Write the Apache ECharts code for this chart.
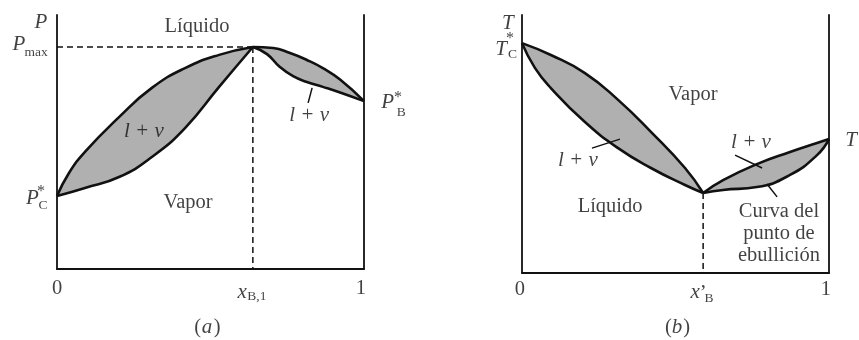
<!DOCTYPE html>
<html><head><meta charset="utf-8">
<script src="https://cdn.jsdelivr.net/npm/echarts@6/dist/echarts.min.js"></script>
<style>html,body{margin:0;padding:0;background:#fff}#c{width:859px;height:340px}</style>
</head><body><div id="c"></div>
<script>
// ---------- Panel (a): P vs x_B (maximum-pressure azeotrope) ----------
const aUpperLeft = [[0,28.7],[0.039,37.8],[0.091,46.1],[0.202,59.8],[0.309,71.3],[0.417,79.1],[0.528,84.3],[0.638,87.4]];
const aLowerLeft = [[0,28.7],[0.091,31.9],[0.202,36.2],[0.309,44.1],[0.417,55.5],[0.528,71.7],[0.638,87.4]];
const aUpperRight = [[0.638,87.4],[0.704,87.0],[0.759,85.0],[0.814,82.3],[0.866,79.1],[0.922,74.6],[1,66.1]];
const aLowerRight = [[0.638,87.4],[0.684,84.6],[0.726,79.5],[0.769,75.9],[0.814,73.6],[0.866,71.7],[0.922,69.5],[1,66.1]];
const aAzeoX = 0.638, aPmax = 87.4;
const aLeader = [[0.831,71.3],[0.818,65.4]];

// ---------- Panel (b): T vs x_B (minimum-boiling azeotrope) ----------
const bUpperLeft = [[0,89.1],[0.094,84.5],[0.205,77.5],[0.313,67.1],[0.420,54.7],[0.531,40.7],[0.590,31.0]];
const bLowerLeft = [[0,89.1],[0.042,79.5],[0.094,71.7],[0.205,58.5],[0.313,48.4],[0.420,40.7],[0.531,34.1],[0.590,31.0]];
const bUpperRight = [[0.590,31.0],[0.655,36.0],[0.765,42.2],[0.873,46.9],[0.961,50.4],[1,51.9]];
const bLowerRight = [[0.590,31.0],[0.655,32.2],[0.765,33.3],[0.873,38.0],[0.961,45.7],[1,51.9]];
const bAzeoX = 0.590, bTmin = 31.0;
const bLeaders = [
  [[0.228,48.4],[0.319,51.9]],
  [[0.694,45.7],[0.782,40.7]],
  [[0.798,34.5],[0.831,29.5]]
];

// ---------- Text annotations [text, style, x, y] in data units ----------
const aTexts = [
  ['P', 'i', -0.052, 96.9],
  ['P', 'i', -0.124, 88.4], ['max', 'sub', -0.068, 85.4],
  ['Líquido', 'r', 0.456, 95.3],
  ['Vapor', 'r', 0.427, 26.0],
  ['l + v', 'i', 0.283, 54.3],
  ['l + v', 'i', 0.821, 60.6],
  ['P', 'i', 1.077, 65.6], ['B', 'sub', 1.121, 61.8], ['*', 'st', 1.111, 67.3],
  ['P', 'i', -0.080, 27.8], ['C', 'sub', -0.046, 25.0], ['*', 'st', -0.052, 30.3],
  ['0', 'r', 0, -7.9],
  ['x', 'i', 0.603, -9.1], ['B,1', 'sub', 0.651, -11.0],
  ['1', 'r', 0.990, -7.9],
  ['(', 'r', 0.458, -23.2], ['a', 'i', 0.489, -23.2], [')', 'r', 0.522, -23.2]
];
const bTexts = [
  ['T', 'i', -0.046, 96.6],
  ['T', 'i', -0.068, 86.6], ['C', 'sub', -0.031, 84.9], ['*', 'st', -0.039, 90.7],
  ['Vapor', 'r', 0.557, 69.0],
  ['l + v', 'i', 0.182, 43.8],
  ['Líquido', 'r', 0.287, 25.6],
  ['l + v', 'i', 0.746, 50.4],
  ['Curva del\npunto de\nebullición', 'r', 0.837, 15.1],
  ['T', 'i', 1.072, 51.2],
  ['0', 'r', -0.007, -6.6],
  ['x', 'i', 0.564, -7.4], ['’', 'r', 0.590, -8.1], ['B', 'sub', 0.609, -9.7],
  ['1', 'r', 0.990, -6.6],
  ['(', 'r', 0.477, -21.3], ['b', 'i', 0.505, -21.3], [')', 'r', 0.536, -21.3]
];

const INK = '#111', FILL = '#b0b0b0';
const SERIF = '"Liberation Serif","DejaVu Serif",serif';
const rich = {
  i: {fontFamily: SERIF, fontStyle: 'italic', fontSize: 21, lineHeight: 22, color: INK},
  r: {fontFamily: SERIF, fontSize: 20.5, lineHeight: 22, color: INK},
  sub: {fontFamily: SERIF, fontSize: 13.5, lineHeight: 14, color: INK},
  st: {fontFamily: SERIF, fontSize: 16, lineHeight: 15, color: INK}
};

function axes(gi) {
  const line = {show: true, onZero: false, lineStyle: {color: INK, width: 1.8}};
  const common = {gridIndex: gi, z: 10, axisLine: line, axisTick: {show: false},
    axisLabel: {show: false}, splitLine: {show: false}};
  return {
    x: Object.assign({type: 'value', min: 0, max: 1}, common),
    yl: Object.assign({type: 'value', min: 0, max: 100, position: 'left'}, common),
    yr: Object.assign({type: 'value', min: 0, max: 100, position: 'right'}, common)
  };
}
const A = axes(0), B = axes(1);

function curve(data, xi, yi, color, z) {
  return {type: 'line', xAxisIndex: xi, yAxisIndex: yi, data: data, smooth: 0.5,
    symbol: 'none', z: z, silent: true,
    lineStyle: {color: INK, width: 2.6},
    areaStyle: {color: color, opacity: 1, origin: 'start'}};
}
function seg(data, xi, yi, dashed, w) {
  return {type: 'line', xAxisIndex: xi, yAxisIndex: yi, data: data, symbol: 'none', z: 6, silent: true,
    lineStyle: {color: INK, width: w, type: dashed ? [6, 4] : 'solid'}};
}
function texts(list, xi, yi) {
  return {type: 'scatter', xAxisIndex: xi, yAxisIndex: yi, symbolSize: 0, clip: false, z: 20, silent: true,
    data: list.map(t => ({name: t[0], style: t[1], value: [t[2], t[3]]})),
    label: {show: true, position: 'inside', rich: rich, align: 'center', verticalAlign: 'middle',
      formatter: p => p.name.split('\n').map(s => '{' + p.data.style + '|' + s + '}').join('\n')}};
}

const option = {
  animation: false,
  backgroundColor: '#fff',
  grid: [
    {left: 57, top: 15, width: 307, height: 254},
    {left: 522, top: 15, width: 307, height: 258}
  ],
  xAxis: [A.x, B.x],
  yAxis: [A.yl, A.yr, B.yl, B.yr],
  series: [
    curve(aUpperLeft, 0, 0, FILL, 2),
    curve(aUpperRight, 0, 0, FILL, 2),
    curve(aLowerLeft, 0, 0, '#fff', 3),
    curve(aLowerRight, 0, 0, '#fff', 3),
    seg([[0, aPmax], [aAzeoX, aPmax]], 0, 0, true, 1.5),
    seg([[aAzeoX, aPmax], [aAzeoX, 0]], 0, 0, true, 1.5),
    seg(aLeader, 0, 0, false, 1.5),
    texts(aTexts, 0, 0),

    curve(bUpperLeft, 1, 2, FILL, 2),
    curve(bUpperRight, 1, 2, FILL, 2),
    curve(bLowerLeft, 1, 2, '#fff', 3),
    curve(bLowerRight, 1, 2, '#fff', 3),
    seg([[bAzeoX, bTmin], [bAzeoX, 0]], 1, 2, true, 1.5),
    seg(bLeaders[0], 1, 2, false, 1.5),
    seg(bLeaders[1], 1, 2, false, 1.5),
    seg(bLeaders[2], 1, 2, false, 1.5),
    texts(bTexts, 1, 2)
  ]
};
echarts.init(document.getElementById('c'), null, {renderer: 'canvas'}).setOption(option);
</script></body></html>
